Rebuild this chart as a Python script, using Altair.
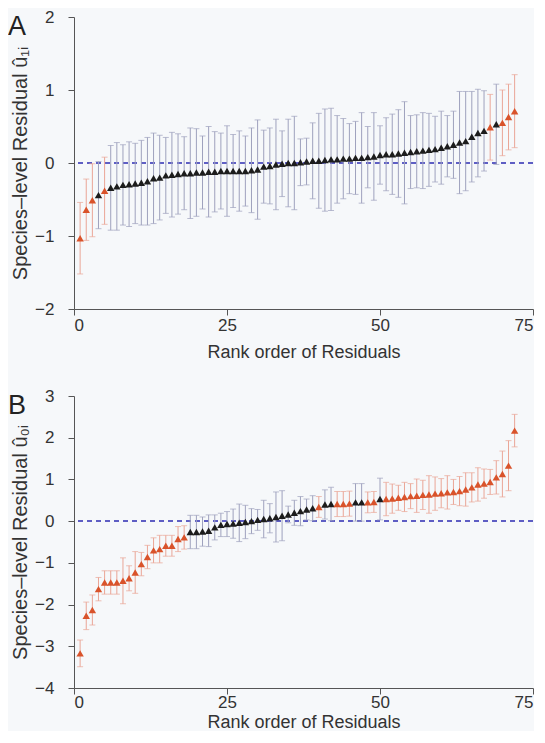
import altair as alt
import pandas as pd

ranks = list(range(1, 73))

# Panel A: species-level residual u1i (rank-ordered) and half-width of error bars
a_values = [-1.03, -0.64, -0.51, -0.44, -0.38, -0.34, -0.32, -0.30, -0.29, -0.28,
            -0.27, -0.25, -0.21, -0.20, -0.17, -0.16, -0.15, -0.14, -0.14, -0.13,
            -0.13, -0.12, -0.12, -0.11, -0.11, -0.11, -0.11, -0.11, -0.10, -0.09,
            -0.05, -0.04, -0.02, -0.01, 0.00, 0.00, 0.01, 0.02, 0.03, 0.03,
            0.04, 0.05, 0.05, 0.06, 0.06, 0.07, 0.07, 0.08, 0.09, 0.11,
            0.12, 0.12, 0.13, 0.14, 0.15, 0.16, 0.17, 0.18, 0.19, 0.21,
            0.23, 0.25, 0.28, 0.30, 0.36, 0.41, 0.44, 0.49, 0.53, 0.55,
            0.63, 0.71]
a_half = [0.49, 0.42, 0.50, 0.46, 0.46, 0.58, 0.60, 0.55, 0.58, 0.55,
          0.58, 0.60, 0.62, 0.58, 0.52, 0.58, 0.55, 0.50, 0.62, 0.60,
          0.50, 0.62, 0.55, 0.52, 0.62, 0.50, 0.55, 0.48, 0.58, 0.68,
          0.50, 0.52, 0.62, 0.45, 0.60, 0.64, 0.32, 0.32, 0.52, 0.65,
          0.70, 0.70, 0.60, 0.55, 0.48, 0.50, 0.62, 0.42, 0.60, 0.40,
          0.50, 0.55, 0.60, 0.70, 0.50, 0.50, 0.52, 0.50, 0.45, 0.50,
          0.42, 0.46, 0.70, 0.68, 0.62, 0.60, 0.55, 0.45, 0.55, 0.45,
          0.45, 0.50]
a_red = [1, 2, 3, 5, 68, 70, 71, 72]

# Panel B: species-level residual u0i
b_values = [-3.17, -2.27, -2.13, -1.63, -1.47, -1.47, -1.47, -1.43, -1.37, -1.23,
            -1.03, -0.86, -0.70, -0.67, -0.59, -0.59, -0.43, -0.39, -0.26, -0.26,
            -0.25, -0.23, -0.15, -0.09, -0.07, -0.06, -0.04, -0.02, 0.00, 0.03,
            0.05, 0.07, 0.10, 0.13, 0.16, 0.20, 0.24, 0.28, 0.31, 0.34,
            0.40, 0.41, 0.41, 0.41, 0.42, 0.45, 0.45, 0.45, 0.46, 0.53,
            0.53, 0.54, 0.56, 0.58, 0.60, 0.61, 0.63, 0.64, 0.66, 0.67,
            0.69, 0.70, 0.72, 0.76, 0.81, 0.88, 0.90, 0.94, 1.05, 1.13,
            1.33, 2.17]
b_half = [0.32, 0.33, 0.36, 0.28, 0.28, 0.28, 0.28, 0.55, 0.30, 0.50,
          0.28, 0.28, 0.30, 0.33, 0.25, 0.25, 0.30, 0.28, 0.40, 0.40,
          0.35, 0.38, 0.30, 0.28, 0.30, 0.35, 0.45, 0.40, 0.30, 0.25,
          0.45, 0.35, 0.60, 0.60, 0.20, 0.30, 0.35, 0.25, 0.30, 0.25,
          0.35, 0.40, 0.30, 0.30, 0.30, 0.45, 0.45, 0.25, 0.25, 0.50,
          0.40, 0.35, 0.30, 0.35, 0.30, 0.40, 0.35, 0.45, 0.40, 0.35,
          0.40, 0.30, 0.35, 0.40, 0.35, 0.40, 0.35, 0.30, 0.40, 0.55,
          0.60, 0.39]
b_red = list(range(1, 19)) + [40, 43, 44, 45, 48, 49] + list(range(51, 73))

x_ticks = [0, 25, 50, 75]
a_y_ticks = [-2, -1, 0, 1, 2]
b_y_ticks = [-4, -3, -2, -1, 0, 1, 2, 3]

RED = "#d9532b"
BLACK = "#1c1c1c"
RED_BAR = "#eaa596"
GREY_BAR = "#9ea1bd"
ZERO = "#5f5fc4"
FONT = "Liberation Sans"


def make_df(values, half, red):
    return pd.DataFrame({
        "rank": ranks,
        "value": values,
        "lo": [v - h for v, h in zip(values, half)],
        "hi": [v + h for v, h in zip(values, half)],
        "group": ["sig" if r in red else "ns" for r in ranks],
    })


def panel(df, domain, yticks, ytitle, letter, xlabel_pad, xtitle_pad):
    x = alt.X("rank:Q", scale=alt.Scale(domain=[0, 75], nice=False),
              axis=alt.Axis(values=x_ticks, title="Rank order of Residuals",
                            labelPadding=xlabel_pad, titlePadding=xtitle_pad))
    y_axis = alt.Axis(values=yticks, title=ytitle)
    yscale = alt.Scale(domain=domain, nice=False)
    bar_color = alt.condition(alt.datum.group == "sig", alt.value(RED_BAR), alt.value(GREY_BAR))
    pt_color = alt.condition(alt.datum.group == "sig", alt.value(RED), alt.value(BLACK))
    base = alt.Chart(df)
    zero = base.mark_rule(strokeDash=[5, 4], color=ZERO, strokeWidth=1.2).encode(
        y=alt.datum(0, scale=yscale, axis=y_axis))
    bars = base.mark_rule(strokeWidth=1).encode(
        x=x, y=alt.Y("lo:Q", scale=yscale, axis=y_axis), y2="hi:Q", color=bar_color)
    cap_lo = base.mark_tick(orient="horizontal", size=6, thickness=1).encode(
        x=x, y=alt.Y("lo:Q", scale=yscale, axis=y_axis), color=bar_color)
    cap_hi = base.mark_tick(orient="horizontal", size=6, thickness=1).encode(
        x=x, y=alt.Y("hi:Q", scale=yscale, axis=y_axis), color=bar_color)
    pts = base.mark_point(shape="triangle-up", filled=True, size=55, opacity=1).encode(
        x=x, y=alt.Y("value:Q", scale=yscale, axis=y_axis), color=pt_color)
    lab = alt.Chart(pd.DataFrame({"t": [letter]})).mark_text(
        fontSize=27, font=FONT, align="left", baseline="top", color="#222"
    ).encode(text="t:N", x=alt.value(-66), y=alt.value(-3))
    return alt.layer(zero, bars, cap_lo, cap_hi, pts, lab).properties(width=459, height=292)


top = panel(make_df(a_values, a_half, a_red), [-2, 2], a_y_ticks,
            "Species\u2013level Residual \u00fb\u2081\u1d62", "A", 2, 10)
bottom = panel(make_df(b_values, b_half, b_red), [-4, 3], b_y_ticks,
               "Species\u2013level Residual \u00fb\u2080\u1d62", "B", 0, 3)

chart = alt.vconcat(top, bottom, spacing=26).properties(
    padding={"left": 0, "top": 0, "right": 0, "bottom": 0},
    background="#f6f8fa",
).configure_view(stroke=None).configure_axis(
    grid=False,
    domainColor="#555",
    tickColor="#555",
    tickSize=6,
    labelFont=FONT,
    titleFont=FONT,
    labelFontSize=17,
    titleFontSize=18,
    titleFontWeight="normal",
    labelColor="#333",
    titleColor="#333",
).configure_axisY(labelPadding=14, titlePadding=4, titleFontSize=20)

chart.save("out.html", embed_options={"renderer": "svg", "actions": False})
